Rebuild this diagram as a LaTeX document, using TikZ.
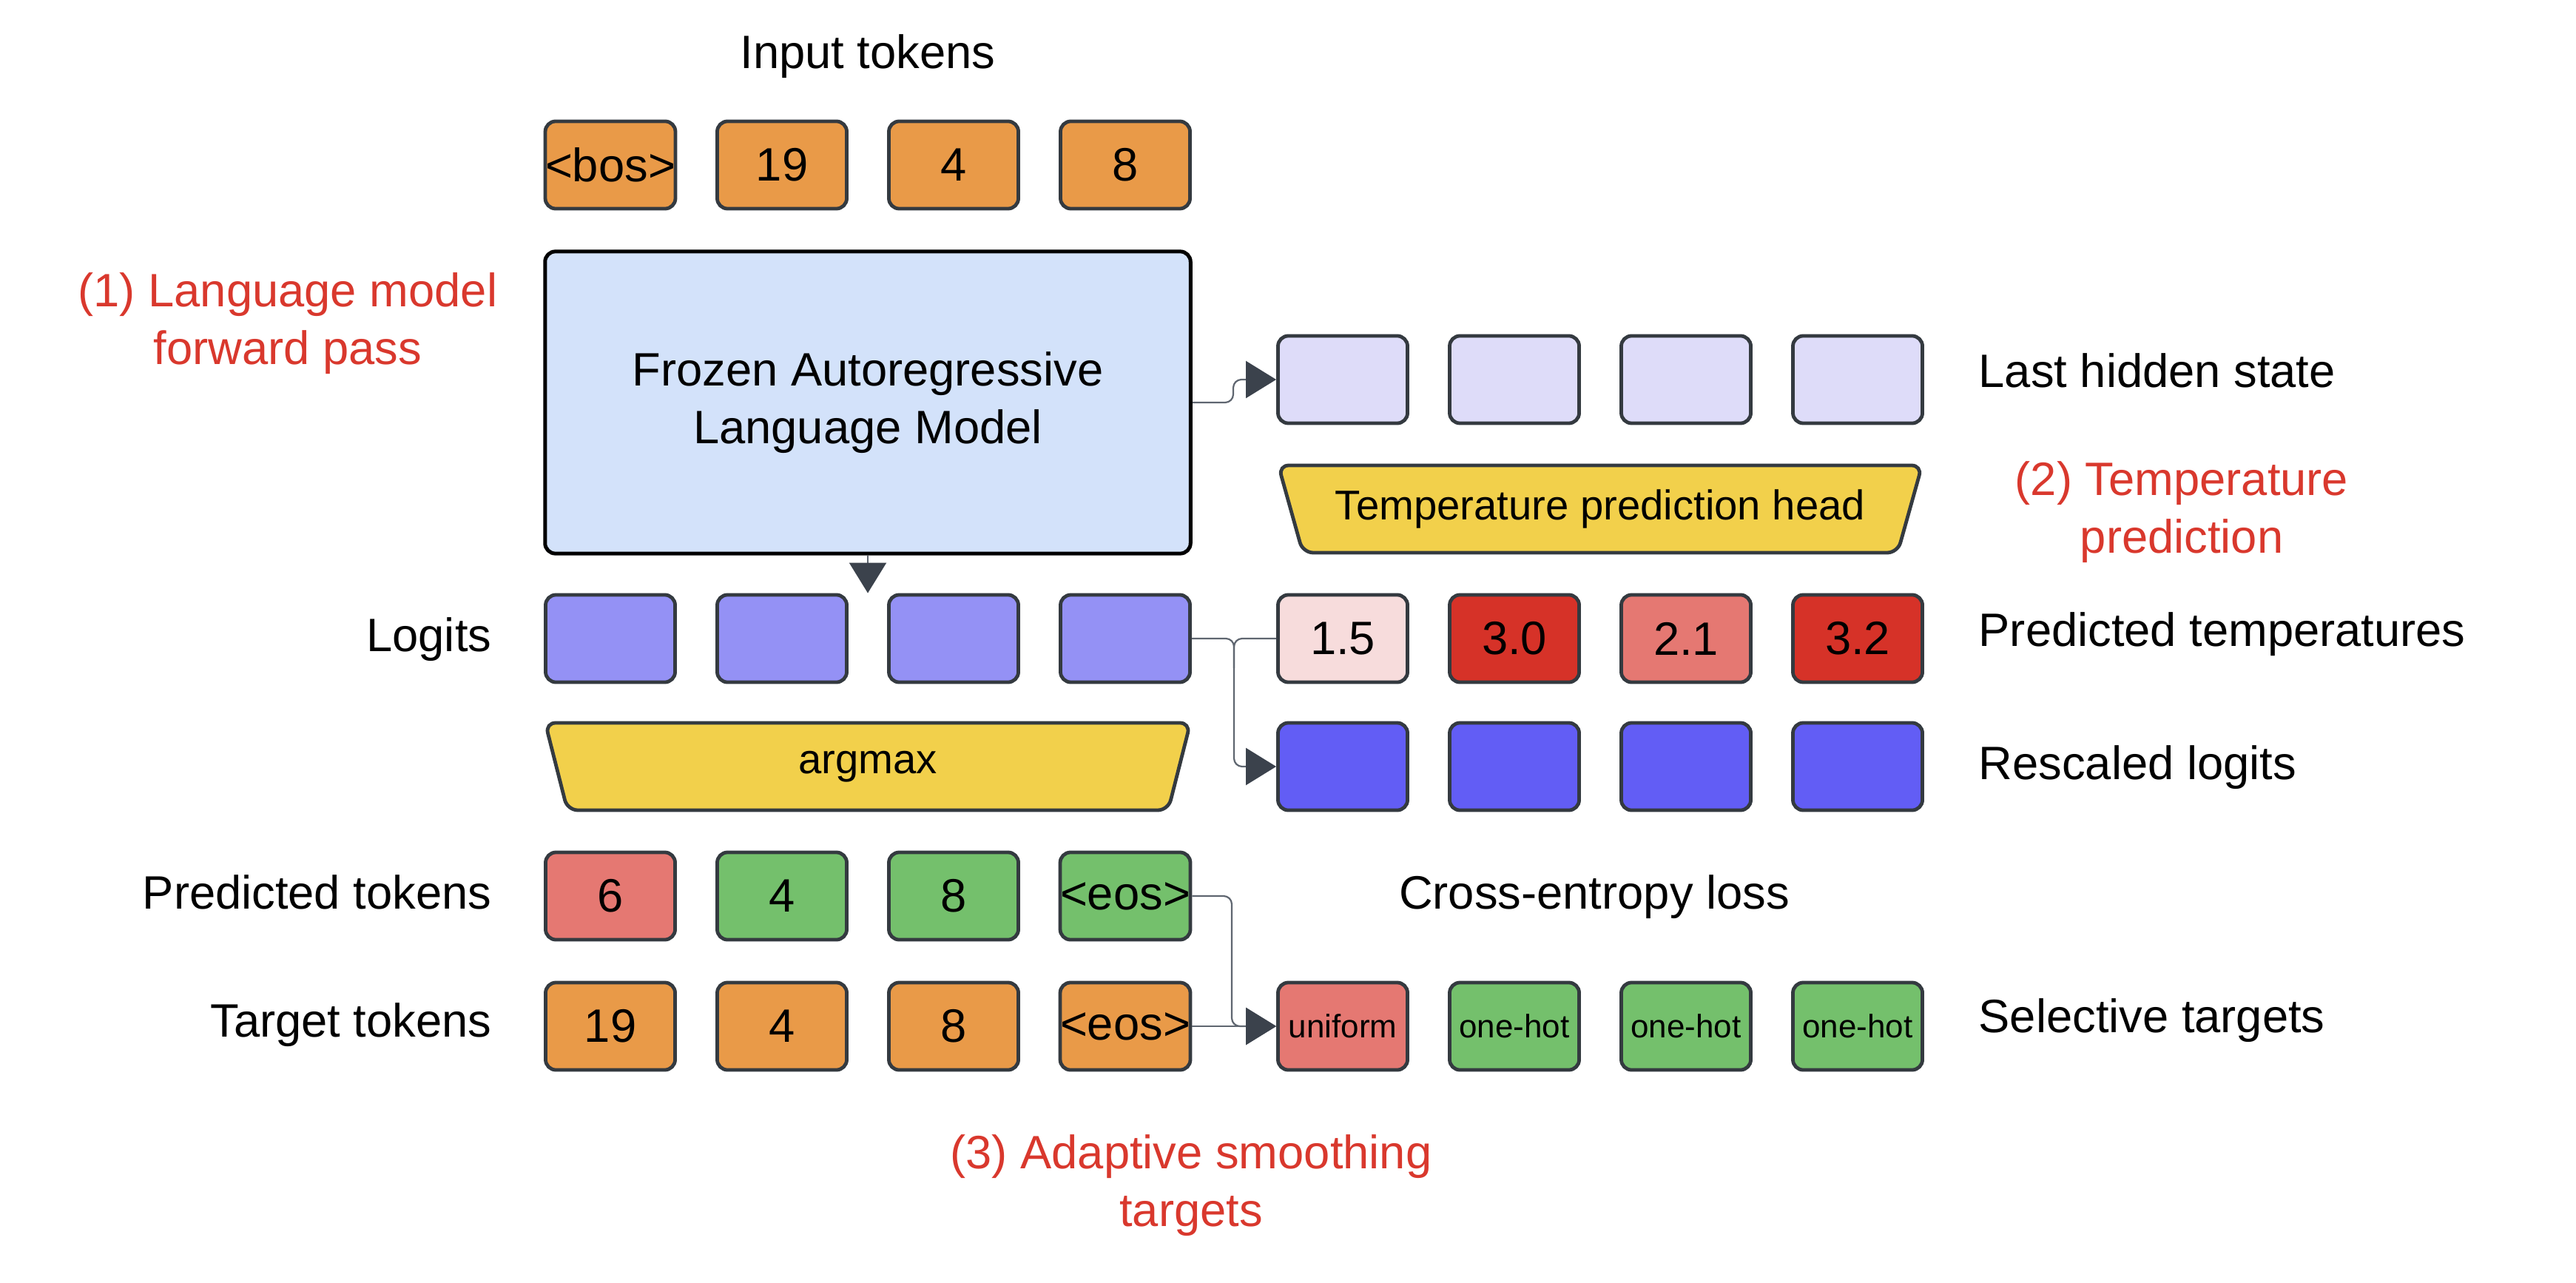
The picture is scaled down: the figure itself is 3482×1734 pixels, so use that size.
\documentclass[tikz,border=0pt]{standalone}
\usepackage{fontspec}
\setmainfont{Liberation Sans}
\usetikzlibrary{arrows.meta,calc}
\definecolor{orng}{HTML}{E99A48}
\definecolor{lmblue}{HTML}{D3E2FA}
\definecolor{hid}{HTML}{DEDCF9}
\definecolor{logit}{HTML}{9491F5}
\definecolor{resc}{HTML}{625DF5}
\definecolor{yel}{HTML}{F2D04B}
\definecolor{pinkl}{HTML}{F7DCDC}
\definecolor{redd}{HTML}{D63228}
\definecolor{salm}{HTML}{E57872}
\definecolor{grn}{HTML}{74C06C}
\definecolor{bord}{HTML}{343A40}
\definecolor{connc}{HTML}{5F6670}
\definecolor{tipc}{HTML}{3B424C}
\definecolor{redtxt}{HTML}{D9382D}
\begin{document}
\begin{tikzpicture}[x=0.01cm,y=-0.01cm,
  lbl/.style={font=\fontsize{18}{22}\selectfont, inner sep=0pt},
  redlbl/.style={lbl, text=redtxt, align=center},
  tok/.style={draw=bord, line width=0.048cm, rounded corners=0.14cm, minimum width=1.75cm, minimum height=1.18cm, inner sep=0pt, font=\fontsize{18}{22}\selectfont},
  small/.style={font=\fontsize{12.5}{15}\selectfont},
  trap/.style={draw=bord, line width=0.048cm, fill=yel, rounded corners=0.14cm},
  link/.style={draw=connc, line width=0.022cm, rounded corners=0.11cm},
  arr/.style={link, -{Triangle[length=0.41cm,width=0.5cm,color=tipc]}}
]
\useasboundingbox (0,0) rectangle (3482,1734);

% titles and labels
\node[lbl, anchor=base] (inlab) at (1173,93) {Input tokens};
\node[redlbl] (red1) at (389,437) {(1) Language model\\forward pass};
\node[redlbl] (red2) at (2949,692) {(2) Temperature\\prediction};
\node[redlbl] (red3) at (1610,1602) {(3) Adaptive smoothing\\targets};

% input tokens
\node[tok, fill=orng] (i1) at (825,223) {<bos>};
\node[tok, fill=orng] (i2) at (1057,223) {19};
\node[tok, fill=orng] (i3) at (1289,223) {4};
\node[tok, fill=orng] (i4) at (1521,223) {8};

% language model
\node[draw=black, line width=0.05cm, rounded corners=0.14cm, fill=lmblue, minimum width=8.72cm, minimum height=4.08cm, align=center, lbl] (lm) at (1173,544) {Frozen Autoregressive\\Language Model};

% hidden states
\node[tok, fill=hid] (h1) at (1815,513) {};
\node[tok, fill=hid] (h2) at (2047,513) {};
\node[tok, fill=hid] (h3) at (2279,513) {};
\node[tok, fill=hid] (h4) at (2511,513) {};
\node[lbl, anchor=base west] (hlab) at (2674,524) {Last hidden state};

% temperature head
\draw[trap] (1728,629) -- (2598,629) -- (2565,747) -- (1761,747) -- cycle;
\node[font=\fontsize{16}{19}\selectfont, inner sep=0pt] (head) at (2163,688) {Temperature prediction head};

% logits
\node[lbl, anchor=base east] (llab) at (665,880) {Logits};
\node[tok, fill=logit] (l1) at (825,863) {};
\node[tok, fill=logit] (l2) at (1057,863) {};
\node[tok, fill=logit] (l3) at (1289,863) {};
\node[tok, fill=logit] (l4) at (1521,863) {};

% predicted temperatures
\node[tok, fill=pinkl] (t1) at (1815,863) {1.5};
\node[tok, fill=redd] (t2) at (2047,863) {3.0};
\node[tok, fill=salm] (t3) at (2279,863) {2.1};
\node[tok, fill=redd] (t4) at (2511,863) {3.2};
\node[lbl, anchor=base west] (tlab) at (2674,873) {Predicted temperatures};

% argmax
\draw[trap] (737,977) -- (1609,977) -- (1579,1095) -- (767,1095) -- cycle;
\node[font=\fontsize{16}{19}\selectfont, inner sep=0pt] (amax) at (1173,1036) {argmax};

% rescaled logits
\node[tok, fill=resc] (r1) at (1815,1036) {};
\node[tok, fill=resc] (r2) at (2047,1036) {};
\node[tok, fill=resc] (r3) at (2279,1036) {};
\node[tok, fill=resc] (r4) at (2511,1036) {};
\node[lbl, anchor=base west] (rlab) at (2674,1053) {Rescaled logits};

% predicted tokens
\node[lbl, anchor=base east] (plab) at (665,1228) {Predicted tokens};
\node[tok, fill=salm] (p1) at (825,1211) {6};
\node[tok, fill=grn] (p2) at (1057,1211) {4};
\node[tok, fill=grn] (p3) at (1289,1211) {8};
\node[tok, fill=grn] (p4) at (1521,1211) {<eos>};
\node[lbl, anchor=base] (celab) at (2155,1228) {Cross-entropy loss};

% target tokens
\node[lbl, anchor=base east] (glab) at (665,1401) {Target tokens};
\node[tok, fill=orng] (g1) at (825,1387) {19};
\node[tok, fill=orng] (g2) at (1057,1387) {4};
\node[tok, fill=orng] (g3) at (1289,1387) {8};
\node[tok, fill=orng] (g4) at (1521,1387) {<eos>};

% selective targets
\node[tok, small, fill=salm] (s1) at (1815,1387) {uniform};
\node[tok, small, fill=grn] (s2) at (2047,1387) {one-hot};
\node[tok, small, fill=grn] (s3) at (2279,1387) {one-hot};
\node[tok, small, fill=grn] (s4) at (2511,1387) {one-hot};
\node[lbl, anchor=base west] (slab) at (2674,1395) {Selective targets};

% connectors
\coordinate (jh) at (1667,544);
\draw[arr] (lm.east) -- (jh) |- (h1.west);
\draw[arr] (lm.south) -- (lm.south |- l1.north);
\coordinate (jl) at (1668,863);
\draw[arr] (l4.east) -- (jl) |- (r1.west);
\draw[link] (t1.west) -- (jl) -- ($(jl)+(0,40)$);
\coordinate (je) at (1665,1211);
\draw[arr] (p4.east) -- (je) |- (s1.west);
\draw[arr] (g4.east) -- (s1.west);
\end{tikzpicture}
\end{document}
